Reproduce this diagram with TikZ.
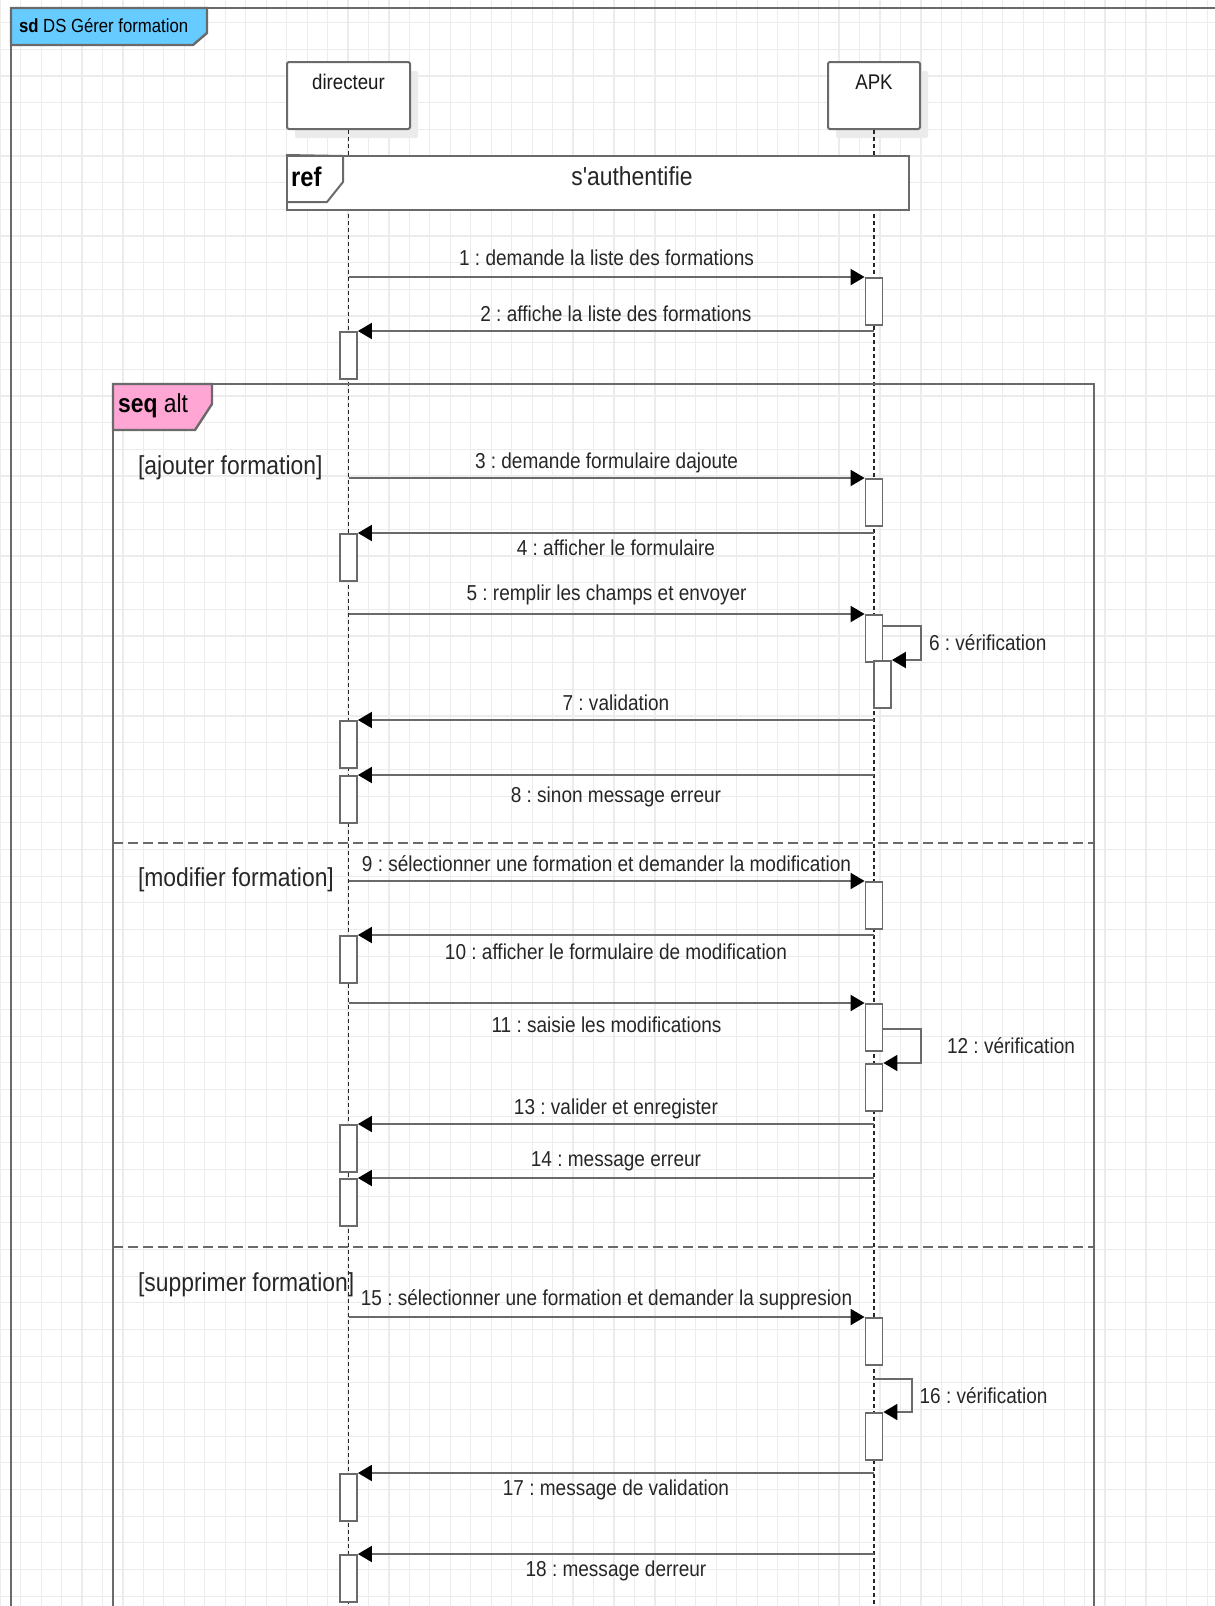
\documentclass[tikz,border=0pt]{standalone}
\usepackage{fontspec}
\setmainfont{Liberation Sans}[FakeStretch=0.88]
\newfontfamily\rawfont{Liberation Sans}[FakeStretch=0.88]
\usepackage{tikz}
\usetikzlibrary{positioning,calc,arrows.meta,shadows}
\definecolor{gridgray}{HTML}{ECECEC}
\definecolor{linegray}{HTML}{6A6A6A}
\definecolor{sdblue}{HTML}{66CCFF}
\definecolor{altpink}{HTML}{FFA6D5}
\frenchspacing

\begin{document}
\begin{tikzpicture}[x=0.5pt, y=-0.5pt,
    gridline/.style={gridgray, line width=0.6pt},
    frame/.style={draw=linegray, line width=1.2pt},
    participant/.style={draw=linegray, line width=1pt, fill=white, rounded corners=1pt,
      minimum height=33.5pt, anchor=north, inner sep=0pt,
      drop shadow={shadow xshift=4pt, shadow yshift=-4.5pt, fill=black!8, opacity=1}},
    partlbl/.style={font=\fontsize{10.6}{12}\selectfont, text=black!90},
    lifeline/.style={black!85, line width=0.6pt, dash pattern=on 2pt off 1.5pt},
    act/.style={draw=linegray, line width=0.9pt, fill=white, minimum width=8.5pt,
      minimum height=23.5pt, anchor=north, inner sep=0pt},
    msg/.style={draw=linegray, line width=1pt, -{Triangle[length=7pt, width=8pt, color=black]}},
    lbl/.style={font=\fontsize{10.8}{13}\selectfont, text=black!85},
    msgup/.style={lbl, midway, yshift=8.5pt},
    msgdown/.style={lbl, midway, yshift=-8.5pt},
    guard/.style={font=\fontsize{13}{15}\selectfont, text=black!85, anchor=west},
    sepline/.style={linegray, line width=1.3pt, dash pattern=on 5pt off 2.5pt}]

  \useasboundingbox (0,0) rectangle (1215,1606);
  \clip (0,0) rectangle (1215,1606);
  \coordinate (bottom) at (0,1640);

  % background grid
  \foreach \k in {0,...,59}
    \draw[gridline] ({0.2+20.46*\k},0) -- ++(0,1606);
  \foreach \k in {0,...,60}
    \draw[gridline] (0,{-4+26.67*\k}) -- ++(1215,0);

  % outer frame
  \draw[frame] (11,1640) |- (1240,8);
  \draw[frame, fill=sdblue] (11,8) -- (207,8) -- (207,33) -- (193,45) -- (11,45) -- cycle;
  \node[anchor=west, font=\fontsize{9.5}{11}\selectfont] (sd) at (12,26) {\textbf{sd} DS Gérer formation};

  % participants
  \node[participant, minimum width=61.5pt] (dir) at (348.5,61) {};
  \node[participant, minimum width=46pt] (apk) at (874,61) {};
  \node[partlbl] (dirlbl) at ([yshift=-10.5pt]dir.north) {directeur};
  \node[partlbl] (apklbl) at ([yshift=-10.5pt]apk.north) {APK};
  \draw[lifeline] (dir.south) -- (dir |- bottom);
  \draw[lifeline] (apk.south) -- (apk |- bottom);

  % ref
  \node[draw=linegray, line width=1pt, fill=white, minimum width=311pt, minimum height=27pt,
    inner sep=0pt] (ref) at (598,183) {};
  \draw[linegray, line width=1pt] (ref.north west) -- (343,156) -- (343,182) -- (327,202) -- (287,202);
  \node[anchor=west, font=\fontsize{13.5}{15}\selectfont\bfseries] (reftag) at (284,177) {ref};
  \node[font=\rawfont\fontsize{13}{15}\selectfont, text=black!85] (authlbl) at (632,176) {s'authentifie};

  % alt frame
  \draw[frame] (113,1640) |- (1094,384) -- (1094,1640);
  \draw[frame, fill=altpink] (113,384) -- (212,384) -- (212,404) -- (195,430) -- (113,430) -- cycle;
  \node[anchor=west, font=\fontsize{13}{15}\selectfont] (alt) at (111,406) {\textbf{seq} alt};
  \draw[sepline] (113,843) -- (1094,843);
  \draw[sepline] (113,1247) -- (1094,1247);
  \node[guard] (g1) at (131,468) {[ajouter formation]};
  \node[guard] (g2) at (131,880) {[modifier formation]};
  \node[guard] (g3) at (131,1285) {[supprimer formation]};

  % activations
  \node[act] (a1) at (874,277) {};
  \node[act] (d2) at (348.5,331) {};
  \node[act] (a3) at (874,478) {};
  \node[act] (d4) at (348.5,533) {};
  \node[act] (a5) at (874,614) {};
  \node[act] (a6) at (882.5,660) {};
  \node[act] (d7) at (348.5,720) {};
  \node[act] (d8) at (348.5,775) {};
  \node[act] (a9) at (874,881) {};
  \node[act] (d10) at (348.5,935) {};
  \node[act] (a11) at (874,1003) {};
  \node[act] (a12) at (874,1063) {};
  \node[act] (d13) at (348.5,1124) {};
  \node[act] (d14) at (348.5,1178) {};
  \node[act] (a15) at (874,1317) {};
  \node[act] (a16) at (874,1412) {};
  \node[act] (d17) at (348.5,1473) {};
  \node[act] (d18) at (348.5,1554) {};

  % messages
  \draw[msg] (a1.north west -| dir) -- node[msgup, yshift=1pt] {1 : demande la liste des formations} (a1.north west);
  \draw[msg] (d2.north east -| apk) -- node[msgup] {2 : affiche la liste des formations} (d2.north east);
  \draw[msg] (a3.north west -| dir) -- node[msgup, yshift=-1pt] {3 : demande formulaire dajoute} (a3.north west);
  \draw[msg] (d4.north east -| apk) -- node[msgdown, yshift=1pt] {4 : afficher le formulaire} (d4.north east);
  \draw[msg] (a5.north west -| dir) -- node[msgup, yshift=1pt] {5 : remplir les champs et envoyer} (a5.north west);
  \draw[msg] ([yshift=-6pt]a5.north east) -- ++(38,0) |- node[lbl, pos=0.25, right] {6 : vérification} (a6.north east);
  \draw[msg] (d7.north east -| apk) -- node[msgup] {7 : validation} (d7.north east);
  \draw[msg] (d8.north east -| apk) -- node[msgdown, yshift=-2.5pt] {8 : sinon message erreur} (d8.north east);
  \draw[msg] (a9.north west -| dir) -- node[msgup] {9 : sélectionner une formation et demander la modification} (a9.north west);
  \draw[msg] (d10.north east -| apk) -- node[msgdown] {10 : afficher le formulaire de modification} (d10.north east);
  \draw[msg] (a11.north west -| dir) -- node[msgdown, yshift=-2.5pt] {11 : saisie les modifications} (a11.north west);
  \draw[msg] ([yshift=-13pt]a11.north east) -- ++(38,0) |- node[lbl, pos=0.25, right=9pt] {12 : vérification} (a12.north east);
  \draw[msg] (d13.north east -| apk) -- node[msgup, yshift=-1pt] {13 : valider et enregister} (d13.north east);
  \draw[msg] (d14.north east -| apk) -- node[msgup] {14 : message erreur} (d14.north east);
  \draw[msg] (a15.north west -| dir) -- node[msgup] {15 : sélectionner une formation et demander la suppresion} (a15.north west);
  \draw[msg] ([yshift=16.5pt]a16.north) -- ++(38,0) |- node[lbl, pos=0.25, right] {16 : vérification} (a16.north east);
  \draw[msg] (d17.north east -| apk) -- node[msgdown] {17 : message de validation} (d17.north east);
  \draw[msg] (d18.north east -| apk) -- node[msgdown] {18 : message derreur} (d18.north east);
\end{tikzpicture}
\end{document}
